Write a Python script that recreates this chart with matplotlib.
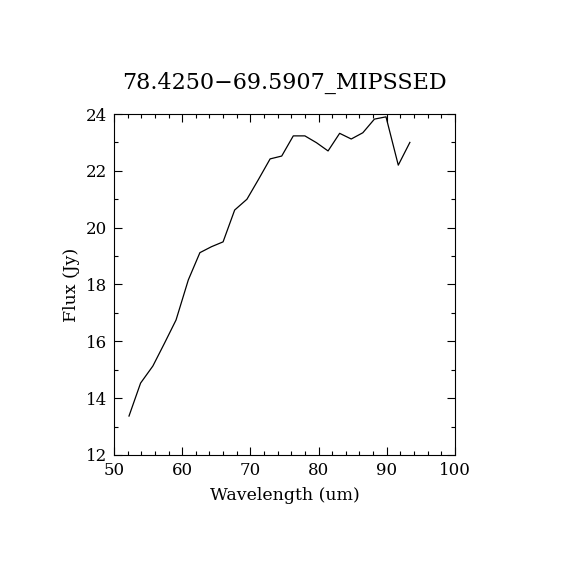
import matplotlib
matplotlib.use("Agg")
import matplotlib.pyplot as plt
from matplotlib.ticker import MultipleLocator

wavelength = [52.2, 53.9, 55.7, 57.4, 59.1, 60.9, 62.6, 64.3, 66.0, 67.7, 69.5, 71.2,
              72.9, 74.6, 76.3, 78.0, 79.7, 81.4, 83.1, 84.8, 86.5, 88.2, 89.9, 91.7, 93.4]
flux = [13.37, 14.53, 15.13, 15.93, 16.75, 18.16, 19.12, 19.33, 19.5, 20.62, 21.0, 21.7,
        22.42, 22.52, 23.23, 23.23, 22.99, 22.7, 23.32, 23.12, 23.34, 23.82, 23.9, 22.2, 23.0]
title = "78.4250\u221269.5907_MIPSSED"

plt.rcParams['font.family'] = ['DejaVu Serif']
fig = plt.figure(figsize=(5.7, 5.7), dpi=100)
ax = fig.add_axes([0.2, 0.2018, 0.598, 0.5982])
ax.plot(wavelength, flux, color='black', lw=0.9)
ax.set_xlim(50, 100)
ax.set_ylim(12, 24)
ax.xaxis.set_major_locator(MultipleLocator(10))
ax.xaxis.set_minor_locator(MultipleLocator(2))
ax.yaxis.set_major_locator(MultipleLocator(2))
ax.yaxis.set_minor_locator(MultipleLocator(1))
ax.tick_params(which='both', direction='in', top=True, right=True, width=0.8, labelsize=12)
ax.tick_params(which='major', length=5.5, pad=5)
ax.tick_params(which='minor', length=2.8)
for s in ax.spines.values():
    s.set_linewidth(0.8)
ax.set_xlabel("Wavelength (um)", fontsize=12.5, labelpad=6)
ax.set_ylabel("Flux (Jy)", fontsize=12.5, labelpad=4)
ax.set_title(title, fontsize=16, pad=18)
fig.savefig("out.png", dpi=100)
